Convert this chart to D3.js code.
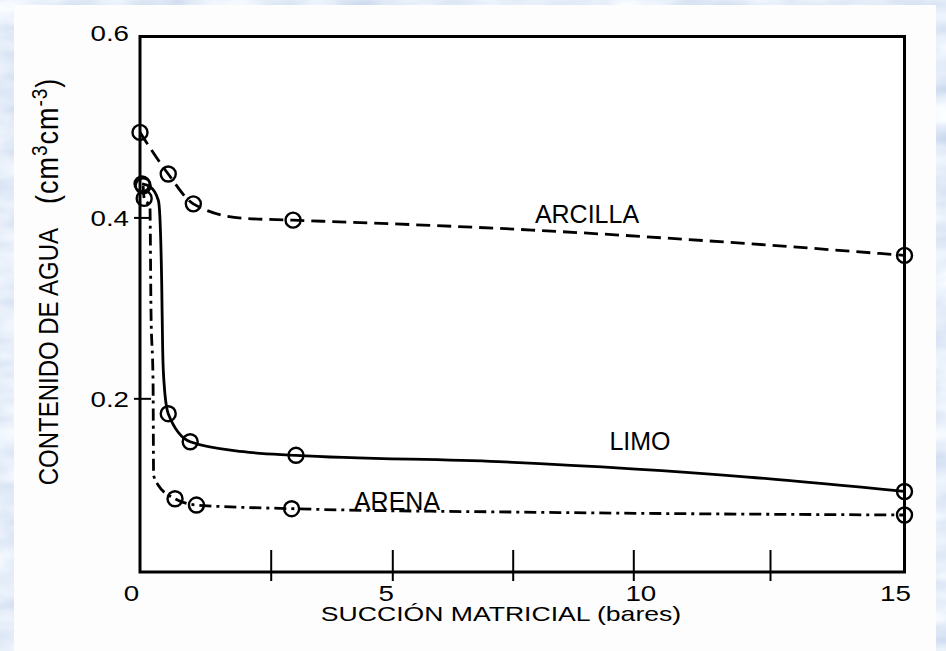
<!DOCTYPE html>
<html><head><meta charset="utf-8">
<script src="https://cdn.jsdelivr.net/npm/d3@7"></script>
<style>html,body{margin:0;padding:0;background:#fff;} svg{display:block}</style>
</head><body>
<svg id="chart" width="946" height="651"></svg>
<script>
// ---------- data ----------
const soils = ["ARCILLA", "LIMO", "ARENA"];

// measured points (circle markers): suction (bar) / water content (cm3 cm-3)
const arcillaSuction = [0, 0.54, 1.02, 2.96, 15];
const arcillaWater   = [0.494, 0.448, 0.415, 0.397, 0.358];
const limoSuction    = [0.04, 0.54, 0.96, 3.02, 15];
const limoWater      = [0.437, 0.183, 0.152, 0.137, 0.097];
const arenaSuction   = [0.06, 0.08, 0.67, 1.08, 2.93, 15];
const arenaWater     = [0.435, 0.421, 0.089, 0.082, 0.078, 0.071];

// drawn retention curves
const arcillaCurveSuction = [0, 0.54, 1.02, 1.98, 2.96, 7.9, 12.1, 15];
const arcillaCurveWater   = [0.494, 0.448, 0.415, 0.399, 0.397, 0.386, 0.371, 0.358];
const limoCurveSuction    = [0.04, 0.19, 0.35, 0.38, 0.415, 0.434, 0.46, 0.54, 0.96, 1.98, 3.02, 7.2, 12.1, 15];
const limoCurveWater      = [0.437, 0.434, 0.419, 0.401, 0.328, 0.253, 0.217, 0.183, 0.152, 0.141, 0.137, 0.130, 0.113, 0.097];
const arenaCurveSuction   = [0.06, 0.08, 0.19, 0.21, 0.25, 0.26, 0.35, 0.67, 1.08, 2.93, 8, 15];
const arenaCurveWater     = [0.435, 0.421, 0.412, 0.298, 0.217, 0.115, 0.104, 0.089, 0.082, 0.078, 0.074, 0.071];

const xTickValues  = [2.5, 5, 7.5, 10, 12.5];
const xLabelValues = [0, 5, 10, 15];
const yTickValues  = [0.2, 0.4];
const yLabelValues = [0.2, 0.4, 0.6];

const xTitle = "SUCCIÓN MATRICIAL (bares)";
const yTitle = "CONTENIDO DE AGUA";

// ---------- layout ----------
const W = 946, H = 651;
const svg = d3.select("#chart");
const FONT = "'Liberation Sans', Arial, Helvetica, sans-serif";

// the scanned axis is not perfectly uniform: piecewise scale through its drawn ticks
const x = d3.scaleLinear()
  .domain([0, 2.5, 5, 7.5, 10, 12.5, 15])
  .range([140, 270.7, 392.3, 512.7, 633.3, 770, 904.5]);
// the tick numbers of the scan sit on their own, evenly spaced, positions
const xLab = d3.scaleLinear().domain([0, 15]).range([131, 895]);
const y = d3.scaleLinear().domain([0.008, 0.6]).range([572, 36.5]);

// ---------- background ----------
const defs = svg.append("defs");
const f = defs.append("filter").attr("id", "marble").attr("x", 0).attr("y", 0).attr("width", 1).attr("height", 1);
f.append("feTurbulence").attr("type", "fractalNoise").attr("baseFrequency", "0.015 0.04").attr("numOctaves", 3).attr("seed", 4).attr("result", "n");
f.append("feColorMatrix").attr("in", "n").attr("type", "matrix")
  .attr("values", "0.55 0 0 0 0.52  0.45 0 0 0 0.63  0.25 0 0 0 0.82  0 0 0 0 1");

svg.append("rect").attr("width", W).attr("height", H).attr("fill", "#cddff2");
svg.append("rect").attr("width", W).attr("height", H).attr("filter", "url(#marble)");
svg.append("rect").attr("x", 14).attr("y", 5).attr("width", 922).attr("height", H - 5).attr("fill", "#fdfdfd");

// ---------- frame ----------
svg.append("rect")
  .attr("x", x(0)).attr("y", y(0.6))
  .attr("width", x(15) - x(0)).attr("height", y(0.008) - y(0.6))
  .attr("fill", "#ffffff").attr("stroke", "#000").attr("stroke-width", 3);

// ---------- axes ----------
const gx = svg.append("g").attr("transform", `translate(0,${y(0.008)})`);
gx.call(d3.axisBottom(x).tickValues(xTickValues).tickFormat("").tickSizeOuter(0))
  .call(g => g.select(".domain").remove())
  .call(g => g.selectAll(".tick line").attr("y1", -22).attr("y2", 9).attr("stroke", "#000").attr("stroke-width", 2));

const gxl = svg.append("g").attr("transform", `translate(0,${y(0.008)})`);
gxl.call(d3.axisBottom(xLab).tickValues(xLabelValues).tickFormat(d3.format("d")).tickSize(0).tickSizeOuter(0))
  .call(g => g.select(".domain").remove())
  .call(g => g.selectAll(".tick text")
     .attr("y", 0).attr("dy", null)
     .attr("transform", "translate(0,29) scale(1.26,1)")
     .attr("font-family", FONT).attr("font-size", 22).attr("fill", "#000"));

const gy = svg.append("g").attr("transform", `translate(${x(0)},0)`);
gy.call(d3.axisLeft(y).tickValues(yTickValues).tickFormat("").tickSizeOuter(0))
  .call(g => g.select(".domain").remove())
  .call(g => g.selectAll(".tick line").attr("x1", -6).attr("x2", 11).attr("stroke", "#000").attr("stroke-width", 2));

const gyl = svg.append("g").attr("transform", `translate(${x(0)},0)`);
gyl.call(d3.axisLeft(y).tickValues(yLabelValues).tickFormat(d3.format(".1f")).tickSize(0).tickSizeOuter(0))
  .call(g => g.select(".domain").remove())
  .call(g => g.selectAll(".tick text")
     .attr("x", 0).attr("dy", null)
     .attr("text-anchor", "end")
     .attr("transform", d => `translate(-11,${d === 0.6 ? 4 : 8}) scale(1.26,1)`)
     .attr("font-family", FONT).attr("font-size", 22).attr("fill", "#000"));

// ---------- axis titles ----------
svg.append("text")
  .attr("transform", `translate(501,621) scale(1.33,1)`)
  .attr("text-anchor", "middle")
  .attr("font-family", FONT).attr("font-size", 20).attr("fill", "#000")
  .text(xTitle);

const yt = svg.append("text")
  .attr("transform", `translate(58,282) scale(1.15,1) rotate(-90)`)
  .attr("text-anchor", "middle")
  .attr("font-family", FONT).attr("font-size", 24).attr("fill", "#000");
yt.append("tspan").text(yTitle);
yt.append("tspan").attr("dx", 24).attr("font-size", 27).attr("letter-spacing", 1).text("(cm");
yt.append("tspan").attr("dy", -10).attr("font-size", 19).attr("letter-spacing", 1).text("3");
yt.append("tspan").attr("dy", 10).attr("font-size", 27).attr("letter-spacing", 1).text("cm");
yt.append("tspan").attr("dy", -10).attr("font-size", 19).attr("letter-spacing", 1).text("-3");
yt.append("tspan").attr("dy", 10).attr("font-size", 27).text(")");

// ---------- series ----------
const zip = (a, b) => a.map((v, i) => [v, b[i]]);
const series = [
  { name: soils[0], curve: zip(arcillaCurveSuction, arcillaCurveWater), pts: zip(arcillaSuction, arcillaWater), dash: "14,7" },
  { name: soils[1], curve: zip(limoCurveSuction, limoCurveWater),       pts: zip(limoSuction, limoWater),       dash: null },
  { name: soils[2], curve: zip(arenaCurveSuction, arenaCurveWater),     pts: zip(arenaSuction, arenaWater),     dash: "12,5,3,5" }
];
const line = d3.line().x(d => x(d[0])).y(d => y(d[1])).curve(d3.curveMonotoneX);

series.forEach(s => {
  svg.append("path").datum(s.curve)
    .attr("d", line)
    .attr("fill", "none").attr("stroke", "#000").attr("stroke-width", 2.8)
    .attr("stroke-dasharray", s.dash);
  svg.append("g").selectAll("circle").data(s.pts).join("circle")
    .attr("cx", d => x(d[0])).attr("cy", d => y(d[1])).attr("r", 7.5)
    .attr("fill", "none").attr("stroke", "#000").attr("stroke-width", 2.4);
});

// ---------- series labels ----------
const labelPos = { ARCILLA: [587, 223], LIMO: [640, 450], ARENA: [397, 510] };
soils.forEach(n => {
  svg.append("text")
    .attr("x", labelPos[n][0]).attr("y", labelPos[n][1])
    .attr("text-anchor", "middle")
    .attr("font-family", FONT).attr("font-size", 25).attr("fill", "#000")
    .text(n);
});
</script>
</body></html>
